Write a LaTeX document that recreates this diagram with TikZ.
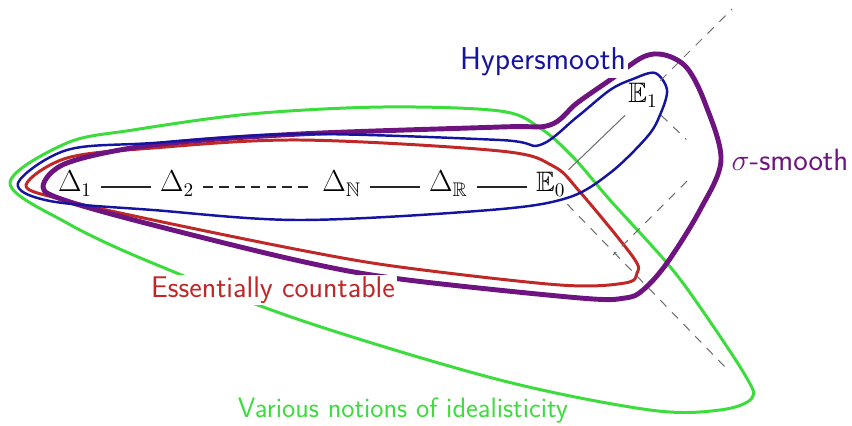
\documentclass[tikz,border=0pt]{standalone}
\usepackage{amssymb}
\usetikzlibrary{positioning}
\definecolor{hyper}{HTML}{1414A0}
\definecolor{sigma}{HTML}{6E1480}
\definecolor{ctble}{HTML}{C02828}
\definecolor{ideal}{HTML}{3CDC3C}
\definecolor{edge}{HTML}{707070}

\begin{document}
\begin{tikzpicture}[x=0.02cm, y=-0.02cm, node distance=10mm, every node/.style={font=\fontsize{16}{19}\selectfont}, term/.style={inner sep=5pt,text height=1.7ex,text depth=0.45ex}, lab/.style={font=\sffamily\fontsize{17}{20}\selectfont,inner sep=1pt}, link/.style={draw=black!85,line width=0.6pt}, dlink/.style={draw=edge,line width=0.6pt,dash pattern=on 5pt off 4.5pt}, region/.style={line join=round}]
\useasboundingbox (0,0) rectangle (852,426);
% the chain of relations
\node[term] (d1) at (75,187) {$\Delta_1$};
\node[term,right=of d1] (d2) {$\Delta_2$};
\node[term,right=22mm of d2] (dn) {$\Delta_{\mathbb{N}}$};
\node[term,right=of dn] (dr) {$\Delta_{\mathbb{R}}$};
\node[term,right=of dr] (e0) {$\mathbb{E}_0$};
\node[term] (e1) at (643,98) {$\mathbb{E}_1$};
\coordinate (up) at (732,9);
\coordinate (turn) at (708,160);
\coordinate (meet) at (613,255);
\coordinate (low) at (727,369);
% classes
\draw[region,draw=ideal,line width=1.7pt] plot[smooth cycle,tension=0.55] coordinates {(10,183) (67,143) (133,130) (250,114) (383,107) (500,111) (540,128) (573,157) (610,200) (667,263) (700,307) (745,375) (752,398) (720,410) (650,410) (500,380) (300,320) (150,262) (67,223)};
\draw[region,draw=ctble,line width=1.7pt] plot[smooth cycle,tension=0.55] coordinates {(26,185) (67,158) (153,148) (300,140) (500,151) (553,166) (580,192) (633,257) (637,273) (625,283) (560,285) (400,267) (300,250) (153,220) (60,199)};
\draw[region,draw=sigma,line width=2.8pt] plot[smooth cycle,tension=0.55] coordinates {(43,187) (67,163) (153,145) (300,134) (500,127) (550,125) (577,103) (610,80) (643,57) (665,55) (687,68) (705,103) (721,160) (700,210) (667,263) (643,290) (625,298) (580,298) (400,279) (300,261) (153,225) (67,201)};
\draw[region,draw=hyper,line width=1.4pt] plot[smooth cycle,tension=0.55] coordinates {(18,183) (67,150) (153,143) (300,134) (500,140) (540,145) (577,117) (610,90) (633,79) (655,73) (667,90) (660,115) (647,137) (610,173) (567,198) (490,210) (300,220) (153,210) (50,201)};
% reductions
\draw[link] (d1)--(d2); \draw[link] (dn)--(dr); \draw[link] (dr)--(e0);
\draw[dlink,draw=black!85,dash pattern=on 5.5pt off 3.5pt] (d2)--(dn);
\draw[link,draw=edge] (e0)--(e1);
\draw[dlink] (e1)--(up);
\draw[dlink,shorten >=17pt] (e1)--(turn);
\draw[dlink,shorten <=17pt] (turn)--(meet);
\draw[dlink] (e0)--(low);
% labels
\node[lab,text=hyper,fill=white,font=\sffamily\fontsize{18}{21}\selectfont] (hlab) at (543,62) {Hypersmooth};
\node[lab,text=sigma,font=\sffamily\fontsize{17.5}{21}\selectfont] (slab) at (790,160) {$\sigma$-smooth};
\node[lab,text=ctble,fill=white] (clab) at (273,290) {Essentially countable};
\node[lab,text=ideal,font=\sffamily\fontsize{16}{19}\selectfont] (ilab) at (403,410) {Various notions of idealisticity};
\end{tikzpicture}
\end{document}
